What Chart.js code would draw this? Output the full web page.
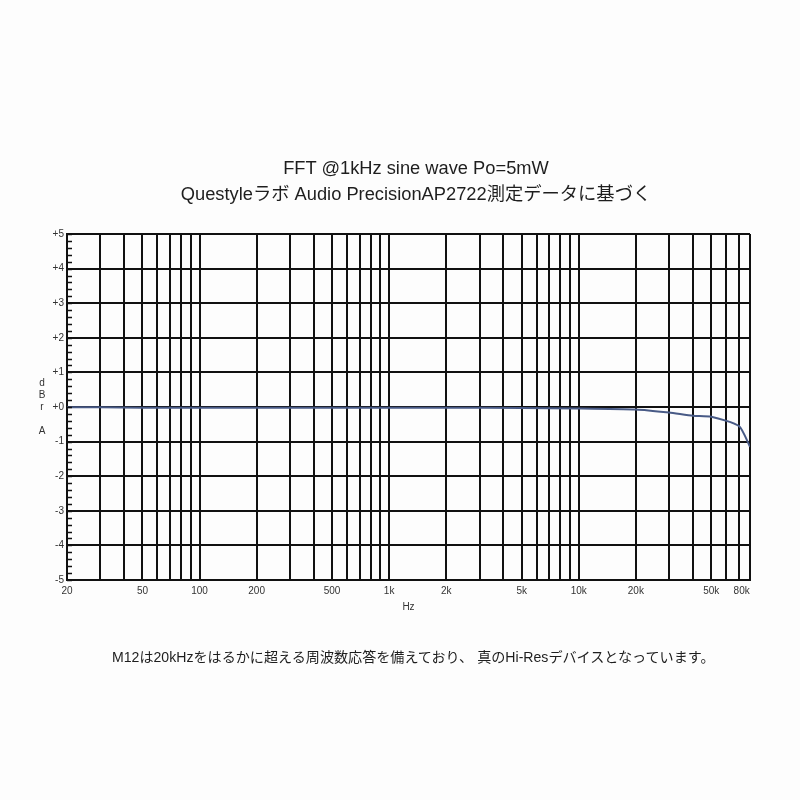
<!DOCTYPE html>
<html>
<head>
<meta charset="utf-8">
<script src="https://cdn.jsdelivr.net/npm/chart.js@4"></script>
<style>
  html, body { margin: 0; padding: 0; background: #fff; }
  #wrap { position: relative; width: 800px; height: 800px; background: #fdfdfd; }
  #c { position: absolute; left: 0; top: 0; }
  .t { position: absolute; left: 0; width: 832px; text-align: center; color: #1e1e1e;
       font-family: "Liberation Sans", Arial, "Noto Sans CJK JP", sans-serif; font-size: 18.3px; white-space: nowrap; }
  #foot { position: absolute; left: 112px; top: 646px; color: #1e1e1e;
       font-family: "Liberation Sans", Arial, "Noto Sans CJK JP", sans-serif; font-size: 14.1px; white-space: nowrap; }
  #ytitle { position: absolute; left: 37px; top: 377px; width: 10px; text-align: center; color: #333;
       font-family: "Liberation Sans", Arial, sans-serif; font-size: 10px; line-height: 12px; }
</style>
</head>
<body>
<div id="wrap">
  <canvas id="c" width="800" height="800"></canvas>
  <div class="t" style="top:157px">FFT @1kHz sine wave Po=5mW</div>
  <div class="t" style="top:179px">Questyleラボ Audio PrecisionAP2722測定データに基づく</div>
  <div id="ytitle">d<br>B<br>r<br><br>A</div>
  <div id="foot">M12は20kHzをはるかに超える周波数応答を備えており、 真のHi-Resデバイスとなっています。</div>
</div>
<script>
// ---- data ----
const freqs = [20, 30, 50, 100, 200, 500, 1000, 2000, 5000, 10000, 20000, 30000, 40000, 50000, 70000, 80000];
const levels = [-0.01, -0.01, -0.02, -0.02, -0.02, -0.02, -0.02, -0.02, -0.03, -0.04, -0.07, -0.16, -0.25, -0.28, -0.55, -1.15];
const xGridValues = [20,30,40,50,60,70,80,90,100,200,300,400,500,600,700,800,900,1000,
  2000,3000,4000,5000,6000,7000,8000,9000,10000,20000,30000,40000,50000,60000,70000,80000];
const xLabelValues = [20, 50, 100, 200, 500, 1000, 2000, 5000, 10000, 20000, 50000, 80000];
const xLabelTexts = ['20','50','100','200','500','1k','2k','5k','10k','20k','50k','80k'];
const yTickValues = [5,4,3,2,1,0,-1,-2,-3,-4,-5];
const yTickTexts = ['+5','+4','+3','+2','+1','+0','-1','-2','-3','-4','-5'];
const yMinorStep = 0.2;

const minorTicks = {
  id: 'minorTicks',
  afterDatasetsDraw(chart) {
    const y = chart.scales.y, a = chart.chartArea, ctx = chart.ctx;
    ctx.save();
    ctx.strokeStyle = '#111';
    ctx.lineWidth = 1.5;
    for (let v = -5; v <= 5.0001; v += yMinorStep) {
      const py = Math.round(y.getPixelForValue(v)) + 0.5;
      ctx.beginPath();
      ctx.moveTo(a.left, py);
      ctx.lineTo(a.left + 5, py);
      ctx.stroke();
    }
    ctx.restore();
  }
};

new Chart(document.getElementById('c'), {
  type: 'line',
  data: {
    datasets: [{
      data: freqs.map((f, i) => ({x: f, y: levels[i]})),
      borderColor: '#485a86',
      borderWidth: 2,
      pointRadius: 0,
      tension: 0.2,
      fill: false
    }]
  },
  options: {
    responsive: false,
    animation: false,
    devicePixelRatio: 1,
    layout: { padding: { left: 0, right: 50, top: 234, bottom: 187 } },
    plugins: { legend: { display: false }, tooltip: { enabled: false } },
    scales: {
      x: {
        type: 'logarithmic',
        min: 20, max: 80000,
        afterBuildTicks(s) { s.ticks = xGridValues.map(v => ({ value: v })); },
        afterFit(s) { s.height = 33; },
        grid: { color: '#111', lineWidth: 2, drawTicks: false },
        border: { color: '#111', width: 2 },
        ticks: {
          autoSkip: false, maxRotation: 0, minRotation: 0, padding: 5,
          color: '#333',
          font: { family: 'Liberation Sans, Arial, sans-serif', size: 10 },
          callback(v) {
            const i = xLabelValues.indexOf(v);
            if (i < 0) return '';
            return i === xLabelValues.length - 1 ? xLabelTexts[i] + '\u00a0\u00a0\u00a0\u00a0\u00a0\u00a0' : xLabelTexts[i];
          }
        },
        title: { display: true, text: 'Hz', color: '#333', padding: { top: 2, bottom: 0 },
                 font: { family: 'Liberation Sans, Arial, sans-serif', size: 10 } }
      },
      y: {
        type: 'linear',
        min: -5, max: 5,
        afterBuildTicks(s) { s.ticks = yTickValues.map(v => ({ value: v })); },
        afterFit(s) { s.width = 67; },
        grid: { color: '#111', lineWidth: 2, drawTicks: false },
        border: { color: '#111', width: 2 },
        ticks: {
          padding: 3, color: '#333',
          font: { family: 'Liberation Sans, Arial, sans-serif', size: 10 },
          callback(v) { const i = yTickValues.indexOf(v); return i < 0 ? '' : yTickTexts[i]; }
        }
      }
    }
  },
  plugins: [minorTicks]
});
</script>
</body>
</html>
